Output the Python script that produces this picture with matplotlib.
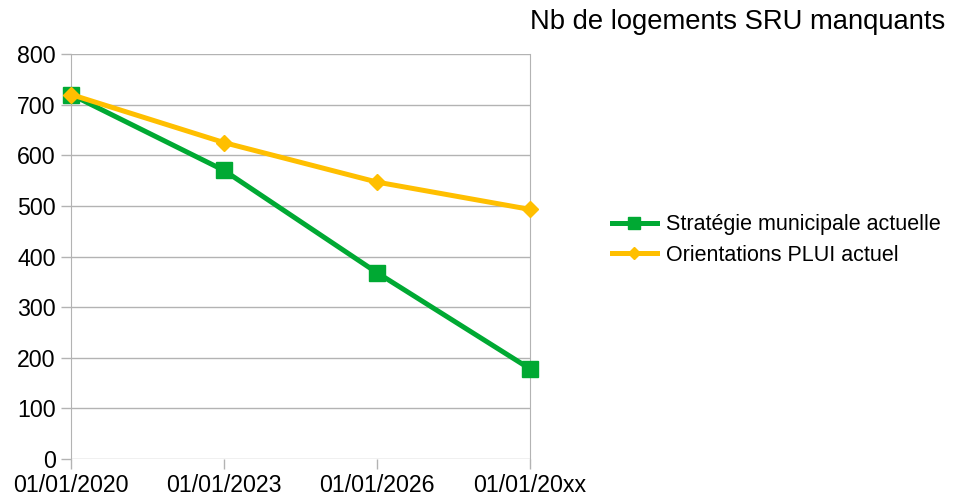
import matplotlib.pyplot as plt
import numpy as np

plt.rcParams['font.family'] = ['Liberation Sans', 'DejaVu Sans']

# data
dates = ['01/01/2020', '01/01/2023', '01/01/2026', '01/01/20xx']
strategie = [720, 570, 368, 178]
plui = [720, 625, 547, 493]

fig = plt.figure(figsize=(9.65, 4.96), dpi=100)
ax = fig.add_axes([0.0736, 0.0746, 0.4757, 0.8165])

x = np.arange(len(dates))
ax.plot(x, strategie, color='#00a933', lw=3.6, marker='s', ms=11,
        label='Stratégie municipale actuelle', clip_on=False, zorder=3)
ax.plot(x, plui, color='#ffbf00', lw=3.6, marker='D', ms=8,
        label='Orientations PLUI actuel', clip_on=False, zorder=4)

ax.set_xlim(0, 3)
ax.set_ylim(0, 800)
ax.set_yticks(range(0, 801, 100))
ax.set_xticks(x)
ax.set_xticklabels(dates)
ax.grid(axis='y', color='#b3b3b3', lw=1)
ax.set_axisbelow(True)
for s in ['top', 'bottom']:
    ax.spines[s].set_visible(False)
for s in ['left', 'right']:
    ax.spines[s].set_color('#b3b3b3')
ax.tick_params(axis='both', colors='#b3b3b3', labelcolor='black',
               labelsize=16.7, length=7, width=1)
ax.tick_params(axis='x', pad=3.5)
ax.tick_params(axis='y', pad=4)

fig.legend(loc='center left', bbox_to_anchor=(0.614, 0.516), frameon=False,
           fontsize=15.5, handlelength=2.1, handletextpad=0.4, labelspacing=0.45,
           markerscale=0.75)
fig.text(0.98, 0.955, 'Nb de logements SRU manquants', ha='right', va='center',
         fontsize=19.7)

fig.savefig('out.png', dpi=100)
